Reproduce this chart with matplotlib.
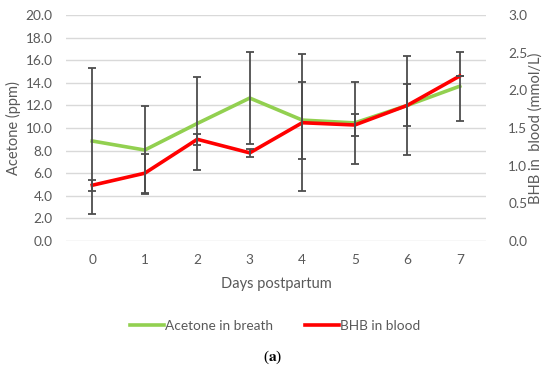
import numpy as np
import matplotlib.pyplot as plt
from matplotlib.lines import Line2D

plt.rcParams['font.family'] = ['Lato', 'DejaVu Sans']
plt.rcParams['mathtext.fontset'] = 'stix'

# data
days = [0, 1, 2, 3, 4, 5, 6, 7]
acetone = [8.85, 8.05, 10.4, 12.65, 10.7, 10.45, 12.0, 13.7]
acetone_err = [6.5, 3.9, 4.15, 4.1, 3.4, 3.6, 4.4, 3.05]
bhb = [0.74, 0.90, 1.35, 1.17, 1.57, 1.54, 1.80, 2.19]
bhb_err = [0.075, 0.26, 0.07, 0.05, 0.91, 0.15, 0.28, 0.0]

text_col = '#595959'
green = '#92D050'
red = '#FF0000'

fig = plt.figure(figsize=(5.5, 3.74), dpi=100)
ax = fig.add_axes([66 / 550, 1 - 241 / 374, 420 / 550, 226 / 374])
ax2 = ax.twinx()

ax.errorbar(days, acetone, yerr=acetone_err, fmt='none', ecolor='#4d4d4d',
            elinewidth=1.3, capsize=3, capthick=1.3, zorder=3)
ax.plot(days, acetone, color=green, lw=2.6, zorder=2, solid_joinstyle='miter')
ax2.errorbar(days, bhb, yerr=bhb_err, fmt='none', ecolor='#4d4d4d',
             elinewidth=1.3, capsize=3, capthick=1.3, zorder=3)
ax2.plot(days, bhb, color=red, lw=2.6, zorder=2, solid_joinstyle='miter')

ax.set_xlim(-0.5, 7.5)
ax.set_ylim(0, 20)
ax2.set_ylim(0, 3)
ax.set_yticks(np.arange(0, 20.1, 2))
ax.set_yticklabels([f'{v:.1f}' for v in np.arange(0, 20.1, 2)])
ax2.set_yticks(np.arange(0, 3.01, 0.5))
ax2.set_yticklabels([f'{v:.1f}' for v in np.arange(0, 3.01, 0.5)])
ax.set_xticks(days)
ax.grid(axis='y', color='#D9D9D9', lw=1)
ax.set_axisbelow(True)

for a in (ax, ax2):
    for s in a.spines.values():
        s.set_visible(False)
    a.tick_params(length=0, labelsize=9.8, colors=text_col)
ax.tick_params(axis='y', pad=9.5)
ax.tick_params(axis='x', pad=9)
ax2.tick_params(axis='y', pad=16)

ax.set_xlabel('Days postpartum', fontsize=10.5, color=text_col)
ax.set_ylabel('Acetone (ppm)', fontsize=10.5, color=text_col)
ax2.set_ylabel('BHB in  blood (mmol/L)', fontsize=10.5, color=text_col)
ax.xaxis.set_label_coords(0.5, -0.19)
ax.yaxis.set_label_coords(-0.124, 0.5)
ax2.yaxis.set_label_coords(1.117, 0.5)
ax.xaxis.label.set_va('center')
ax.yaxis.label.set_va('center')
ax2.yaxis.label.set_va('center')

handles = [Line2D([], [], color=green, lw=2.6), Line2D([], [], color=red, lw=2.6)]
fig.legend(handles, ['Acetone in breath', 'BHB in blood'], loc='center',
           bbox_to_anchor=(0.5, 1 - 326 / 374), ncol=2, frameon=False,
           fontsize=9.8, handlelength=2.5, handletextpad=0.1, columnspacing=2.3,
           labelcolor=text_col)

fig.text(0.495, 1 - 357 / 374, r'($\mathbf{a}$)', ha='center', va='center',
         fontsize=11, family='Liberation Serif', color='black')

fig.savefig('out.png', dpi=100)
